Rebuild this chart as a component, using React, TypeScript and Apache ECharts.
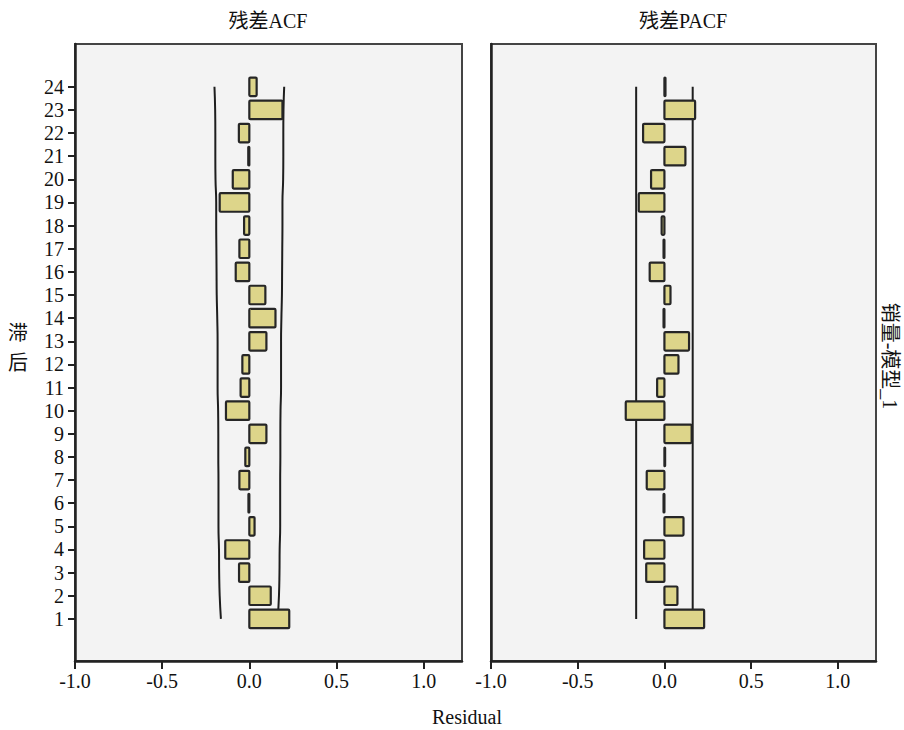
import React, { useEffect, useRef } from "react";
import * as echarts from "echarts";

const lags = [1, 2, 3, 4, 5, 6, 7, 8, 9, 10, 11, 12, 13, 14, 15, 16, 17, 18, 19, 20, 21, 22, 23, 24];
const acfValues = [0.229, 0.123, -0.059, -0.138, 0.03, -0.005, -0.057, -0.023, 0.098, -0.134, -0.05, -0.04, 0.098, 0.15, 0.092, -0.078, -0.057, -0.03, -0.17, -0.095, -0.006, -0.06, 0.19, 0.042];
const acfBound = [0.163, 0.170, 0.173, 0.174, 0.177, 0.177, 0.177, 0.178, 0.178, 0.179, 0.182, 0.182, 0.182, 0.184, 0.187, 0.188, 0.189, 0.190, 0.190, 0.194, 0.195, 0.195, 0.196, 0.200];
const pacfValues = [0.229, 0.075, -0.105, -0.117, 0.11, -0.005, -0.102, 0.004, 0.157, -0.223, -0.042, 0.081, 0.142, -0.005, 0.035, -0.085, -0.005, -0.016, -0.148, -0.077, 0.121, -0.123, 0.177, 0.006];
const pacfBound = [0.163, 0.163, 0.163, 0.163, 0.163, 0.163, 0.163, 0.163, 0.163, 0.163, 0.163, 0.163, 0.163, 0.163, 0.163, 0.163, 0.163, 0.163, 0.163, 0.163, 0.163, 0.163, 0.163, 0.163];
const xTicks = [-1.0, -0.5, 0.0, 0.5, 1.0];
const panelTitles = ["残差ACF", "残差PACF"];
const xAxisName = "Residual";
const yAxisName = "滞后";
const rightLabel = "销量-模型_1";

const FONT = "'Liberation Serif', 'Noto Sans CJK SC', serif";

export default function App() {
  const ref = useRef<HTMLDivElement>(null);
  useEffect(() => {
    if (!ref.current) return;
    const chart = echarts.init(ref.current, null, { renderer: "svg" });

    const barSeries = (idx: number, vals: number[]) => ({
      type: "custom",
      xAxisIndex: idx,
      yAxisIndex: idx,
      data: lags.map((l, i) => [vals[i], l]),
      encode: { x: 0, y: 1 },
      renderItem: (params: any, api: any) => {
        const v = api.value(0);
        const l = api.value(1);
        const p0 = api.coord([0, l]);
        const p1 = api.coord([v, l]);
        const h = api.size([0, 0.8])[1];
        const x = Math.min(p0[0], p1[0]);
        const w = Math.abs(p1[0] - p0[0]);
        return {
          type: "rect",
          shape: { x, y: p0[1] - h / 2, width: w, height: h, r: 1 },
          style: { fill: "#ddd58a", stroke: "#262626", lineWidth: 2.2 },
        };
      },
      z: 3,
    });

    const boundSeries = (idx: number, bounds: number[], sign: number, smooth: boolean) => ({
      type: "line",
      xAxisIndex: idx,
      yAxisIndex: idx,
      data: lags.map((l, i) => [sign * bounds[i], l]),
      smooth,
      showSymbol: false,
      symbol: "none",
      lineStyle: { color: "#1e1e1e", width: 2 },
      z: 2,
    });

    const xAxisCfg = (idx: number) => ({
      type: "value",
      gridIndex: idx,
      min: -1,
      max: 1.22,
      splitLine: { show: false },
      axisLine: { show: true, onZero: false, lineStyle: { color: "#222", width: 2.5 } },
      axisTick: { show: true, length: 8, customValues: xTicks, lineStyle: { color: "#222", width: 2 } },
      axisLabel: {
        customValues: xTicks,
        formatter: (v: number) => v.toFixed(1),
        fontFamily: FONT,
        fontSize: 20,
        color: "#111",
        margin: 10,
      },
    });

    const yAxisCfg = (idx: number) => ({
      type: "value",
      gridIndex: idx,
      min: -0.82,
      max: 25.85,
      splitLine: { show: false },
      axisLine: { show: true, onZero: false, lineStyle: { color: "#222", width: 2.5 } },
      axisTick: { show: idx === 0, length: 7, customValues: lags, lineStyle: { color: "#222", width: 2 } },
      axisLabel: {
        show: idx === 0,
        customValues: lags,
        fontFamily: FONT,
        fontSize: 20,
        color: "#111",
        margin: 11,
      },
    });

    chart.setOption({
      animation: false,
      backgroundColor: "#ffffff",
      grid: [
        { left: 75, top: 44, width: 387, height: 617, show: true, backgroundColor: "#f3f3f3", borderColor: "#444", borderWidth: 2 },
        { left: 491, top: 44, width: 385, height: 617, show: true, backgroundColor: "#f3f3f3", borderColor: "#444", borderWidth: 2 },
      ],
      xAxis: [xAxisCfg(0), xAxisCfg(1)],
      yAxis: [yAxisCfg(0), yAxisCfg(1)],
      series: [
        boundSeries(0, acfBound, 1, true),
        boundSeries(0, acfBound, -1, true),
        barSeries(0, acfValues),
        boundSeries(1, pacfBound, 1, false),
        boundSeries(1, pacfBound, -1, false),
        barSeries(1, pacfValues),
      ],
      graphic: [
        { type: "text", x: 268, y: 21, style: { text: panelTitles[0], font: `20px ${FONT}`, fill: "#111", textAlign: "center", textVerticalAlign: "middle" } },
        { type: "text", x: 683, y: 21, style: { text: panelTitles[1], font: `20px ${FONT}`, fill: "#111", textAlign: "center", textVerticalAlign: "middle" } },
        { type: "text", x: 467, y: 717, style: { text: xAxisName, font: `20px ${FONT}`, fill: "#111", textAlign: "center", textVerticalAlign: "middle" } },
        { type: "text", x: 18, y: 348, style: { text: yAxisName.split("").join("\n"), font: `20px ${FONT}`, lineHeight: 30, fill: "#111", textAlign: "center", textVerticalAlign: "middle" } },
        { type: "text", x: 890, y: 356, rotation: -Math.PI / 2, style: { text: rightLabel, font: `20px ${FONT}`, fill: "#111", textAlign: "center", textVerticalAlign: "middle" } },
      ],
    });
    return () => chart.dispose();
  }, []);
  return <div ref={ref} style={{ position: "fixed", left: 0, top: 0, width: 904, height: 730, background: "#fff" }} />;
}
